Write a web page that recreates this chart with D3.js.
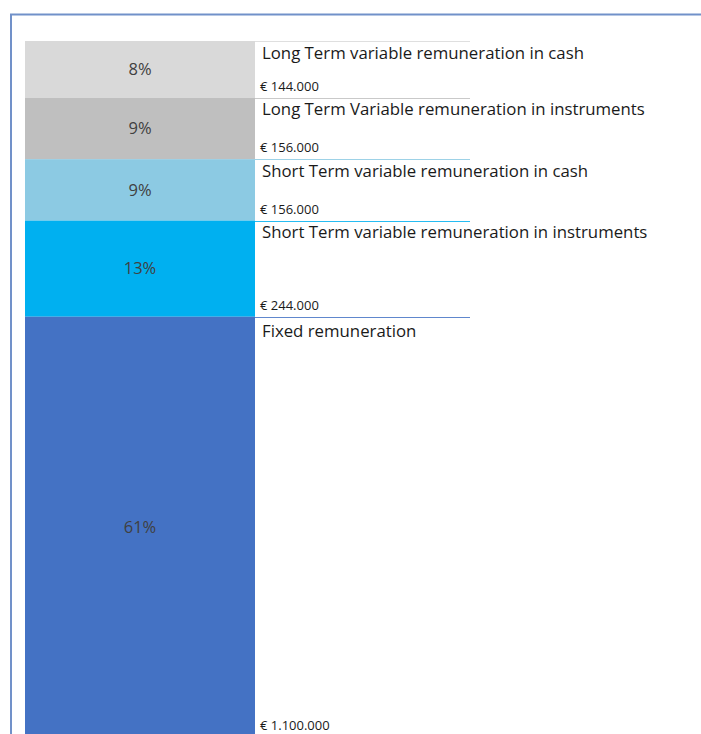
<!DOCTYPE html>
<html>
<head>
<meta charset="utf-8">
<script src="https://cdn.jsdelivr.net/npm/d3@7"></script>
<style>
  html, body { margin: 0; padding: 0; background: #ffffff; overflow: hidden; }
  svg { display: block; }
  text { font-family: "Open Sans", Lato, sans-serif; }
</style>
</head>
<body>
<svg id="chart" width="701" height="734"></svg>
<script>
// Remuneration components, stacked from top to bottom
const categories = [
  "Long Term variable remuneration in cash",
  "Long Term Variable remuneration in instruments",
  "Short Term variable remuneration in cash",
  "Short Term variable remuneration in instruments",
  "Fixed remuneration"
];
const amounts = [144000, 156000, 156000, 244000, 1100000];
const shareLabels = ["8%", "9%", "9%", "13%", "61%"];
const amountLabels = ["€ 144.000", "€ 156.000", "€ 156.000", "€ 244.000", "€ 1.100.000"];
const colors = ["#d9d9d9", "#bfbfbf", "#8ccae3", "#00b0f0", "#4472c4"];

const W = 701, H = 734;
const svg = d3.select("#chart");

// Frame around the slide area
svg.append("path")
  .attr("d", `M11,${H} L11,14.5 L${W},14.5`)
  .attr("fill", "none")
  .attr("stroke", "#7191c9")
  .attr("stroke-width", 2);

// Cumulative stack
let acc = 0;
const rows = amounts.map((v, i) => {
  const r = { i, start: acc, end: acc + v };
  acc += v;
  return r;
});
const total = acc;

const barTop = 41, barLeft = 25, barRight = 255, lineEnd = 470;
const visibleBottom = H + 3;

const y = d3.scaleLinear().domain([0, total]).range([barTop, barTop + 709]);
const x = d3.scaleBand().domain(["total"]).range([barLeft, barRight]).padding(0);

const g = svg.append("g");

// Bar segments
g.selectAll("rect.seg")
  .data(rows)
  .join("rect")
  .attr("class", "seg")
  .attr("x", x("total"))
  .attr("width", x.bandwidth())
  .attr("y", d => y(d.start))
  .attr("height", d => y(d.end) - y(d.start))
  .attr("fill", d => colors[d.i]);

// Leader lines at the top of each segment
g.selectAll("line.lead")
  .data(rows)
  .join("line")
  .attr("class", "lead")
  .attr("x1", barRight)
  .attr("x2", lineEnd)
  .attr("y1", d => Math.round(y(d.start)) + 0.5)
  .attr("y2", d => Math.round(y(d.start)) + 0.5)
  .attr("stroke", d => colors[d.i])
  .attr("stroke-opacity", 0.85)
  .attr("stroke-width", 1);

// Percentage labels inside the bar
g.selectAll("text.pct")
  .data(rows)
  .join("text")
  .attr("class", "pct")
  .attr("x", x("total") + x.bandwidth() / 2)
  .attr("y", d => (y(d.start) + Math.min(y(d.end), visibleBottom)) / 2)
  .attr("dy", "0.35em")
  .attr("text-anchor", "middle")
  .attr("font-size", 16.5)
  .attr("fill", "#404040")
  .text(d => shareLabels[d.i]);

// Category names
g.selectAll("text.cat")
  .data(rows)
  .join("text")
  .attr("class", "cat")
  .attr("x", 262)
  .attr("y", d => y(d.start) + (d.i === rows.length - 1 ? 20 : 17.5))
  .attr("font-size", 16.8)
  .attr("fill", "#1a1a1a")
  .text(d => categories[d.i]);

// Amounts
g.selectAll("text.amt")
  .data(rows)
  .join("text")
  .attr("class", "amt")
  .attr("x", 260)
  .attr("y", d => Math.min(y(d.end), visibleBottom) - 7)
  .attr("font-size", 13)
  .attr("fill", "#1a1a1a")
  .text(d => amountLabels[d.i]);
</script>
</body>
</html>
